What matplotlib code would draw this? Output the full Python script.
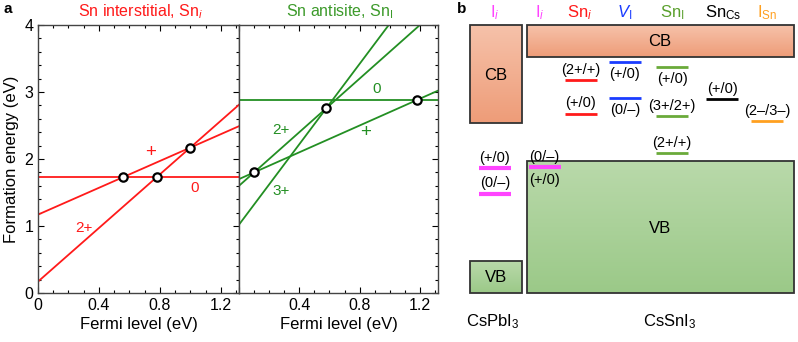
import numpy as np
import matplotlib
matplotlib.use("Agg")
import matplotlib.pyplot as plt
from matplotlib.patches import Rectangle
from matplotlib.ticker import MultipleLocator

plt.rcParams['font.family'] = ['Liberation Sans', 'DejaVu Sans']
plt.rcParams['mathtext.fontset'] = 'custom'
plt.rcParams['mathtext.rm'] = 'Liberation Sans'
plt.rcParams['mathtext.it'] = 'Liberation Sans:italic'
plt.rcParams['mathtext.bf'] = 'Liberation Sans:bold'

# ---------------- data: panel a ----------------
fermi_max = 1.32
# Sn interstitial: charge states and formation energy at E_F = 0
sni_labels = ['0', '+', '2+']
sni_charge = [0, 1, 2]
sni_e0 = [1.73, 1.17, 0.17]
sni_trans_x = [0.56, 0.78, 1.00]
sni_trans_y = [1.73, 1.73, 2.17]
sni_label_x = [1.03, 0.74, 0.30]
sni_label_y = [1.57, 2.10, 0.97]

# Sn antisite
snI_labels = ['0', '+', '2+', '3+']
snI_charge = [0, 1, 2, 3]
snI_e0 = [2.88, 1.70, 1.60, 1.02]
snI_trans_x = [0.10, 0.58, 1.18]
snI_trans_y = [1.80, 2.76, 2.88]
snI_label_x = [0.91, 0.84, 0.28, 0.28]
snI_label_y = [3.04, 2.39, 2.43, 1.52]

# ---------------- data: panel b (energies in eV, CsSnI3 VBM = 0) ----------------
headers = [r'I$_i$', r'I$_i$', r'Sn$_i$', r'$V_\mathrm{I}$', r'Sn$_\mathrm{I}$', r'Sn$_\mathrm{Cs}$', r'I$_\mathrm{Sn}$']
header_x = [495, 540, 580, 625, 672, 723, 767]
header_colors = ['#ff44ff', '#ff44ff', '#ff1a1a', '#1a3cff', '#5aa02c', '#000000', '#ffa020']

cspbi3_vb = [-1.65, -1.25]
cspbi3_cb = [0.475, 1.70]
cssni3_vb = [-1.65, 0.0]
cssni3_cb = [1.30, 1.70]

lvl_x = [495, 495, 545, 581, 581, 625, 625, 672, 672, 672, 722, 767]
lvl_e = [-0.09, -0.41, -0.075, 1.01, 0.59, 1.24, 0.79, 1.175, 0.56, 0.10, 0.775, 0.50]
lvl_text = ['(+/0)', '(0/–)', '(0/–)', '(2+/+)', '(+/0)', '(+/0)', '(0/–)', '(+/0)', '(3+/2+)', '(2+/+)', '(+/0)', '(2–/3–)']
lvl_pos = ['above', 'above', 'above', 'above', 'above', 'below', 'below', 'below', 'above', 'above', 'above', 'above']
lvl_color = ['#ff44ff', '#ff44ff', '#ff44ff', '#ff1a1a', '#ff1a1a', '#1a3cff', '#1a3cff',
             '#6aaa3a', '#6aaa3a', '#6aaa3a', '#000000', '#ffa020']

# ---------------- figure ----------------
W, H = 798, 342
fig = plt.figure(figsize=(W / 100, H / 100), dpi=100)

red = '#ff1a1a'
green = '#238f23'


def fx(px):
    return px / W


def fy(py):
    return 1 - py / H


ax1 = fig.add_axes([fx(38), fy(293), fx(239 - 38), (293 - 25) / H])
ax2 = fig.add_axes([fx(239), fy(293), fx(438 - 239), (293 - 25) / H])

xx = np.array([0.0, fermi_max])
for ax in (ax1, ax2):
    ax.set_xlim(0, fermi_max)
    ax.set_ylim(0, 4)
    ax.xaxis.set_major_locator(MultipleLocator(0.4))
    ax.xaxis.set_minor_locator(MultipleLocator(0.1))
    ax.yaxis.set_major_locator(MultipleLocator(1))
    ax.yaxis.set_minor_locator(MultipleLocator(0.2))
    ax.tick_params(which='both', direction='in', top=True, right=True, labelsize=11.5)
    ax.tick_params(which='major', length=4, width=0.8)
    ax.tick_params(which='minor', length=2.5, width=0.8)
    for s in ax.spines.values():
        s.set_color('#444444')
        s.set_linewidth(1.0)
    ax.set_xlabel('Fermi level (eV)', fontsize=12, labelpad=3)

ax1.xaxis.set_major_formatter(matplotlib.ticker.FuncFormatter(lambda v, p: '0' if abs(v) < 1e-9 else f'{v:.1f}'))
ax2.xaxis.set_major_formatter(matplotlib.ticker.FuncFormatter(lambda v, p: '' if abs(v) < 1e-9 else f'{v:.1f}'))
ax2.tick_params(which='both', left=False, labelleft=False)
ax1.set_ylabel('Formation energy (eV)', fontsize=12, labelpad=4)


def lab_size(s):
    return 13.5 if s == '+' else 11


for q, e0, lab, lx, ly in zip(sni_charge, sni_e0, sni_labels, sni_label_x, sni_label_y):
    ax1.plot(xx, e0 + q * xx, color=red, lw=1.3, clip_on=True)
    ax1.text(lx, ly, lab, color=red, fontsize=lab_size(lab), ha='center', va='center')
ax1.plot(sni_trans_x, sni_trans_y, 'o', ms=6, mfc='white', mec='black', mew=1.6, zorder=5)

for q, e0, lab, lx, ly in zip(snI_charge, snI_e0, snI_labels, snI_label_x, snI_label_y):
    ax2.plot(xx, e0 + q * xx, color=green, lw=1.3)
    ax2.text(lx, ly, lab, color=green, fontsize=lab_size(lab), ha='center', va='center')
ax2.plot(snI_trans_x, snI_trans_y, 'o', ms=6, mfc='white', mec='black', mew=1.6, zorder=5)

fig.text(fx(140), fy(12), r'Sn interstitial, Sn$_i$', color=red, fontsize=11.5, ha='center', va='center')
fig.text(fx(340), fy(12), r'Sn antisite, Sn$_\mathrm{I}$', color='#3c9a2a', fontsize=11.5, ha='center', va='center')
fig.text(fx(8), fy(9), 'a', fontsize=11, fontweight='bold', ha='center', va='center')
fig.text(fx(462), fy(9), 'b', fontsize=11, fontweight='bold', ha='center', va='center')

# ---------------- panel b ----------------
axb = fig.add_axes([fx(440), 0, fx(W - 440), 1])
e_top = 161 / 80
e_bot = (161 - H) / 80
axb.set_axis_off()

cb_cmap = matplotlib.colors.LinearSegmentedColormap.from_list('cb', ['#ee9c78', '#f6c2aa'])
vb_cmap = matplotlib.colors.LinearSegmentedColormap.from_list('vb', ['#9bc988', '#b9d9aa'])
grad = np.linspace(0, 1, 256).reshape(-1, 1)


def band_box(x0, x1, e0, e1, cmap):
    axb.imshow(grad, cmap=cmap, extent=[x0, x1, e0, e1], origin='lower', aspect='auto', zorder=1)
    axb.add_patch(Rectangle((x0, e0), x1 - x0, e1 - e0, fill=False, ec='#333333', lw=1.3, zorder=2))


band_box(470, 522, cspbi3_cb[0], cspbi3_cb[1], cb_cmap)
band_box(470, 522, cspbi3_vb[0], cspbi3_vb[1], vb_cmap)
band_box(527, 794, cssni3_cb[0], cssni3_cb[1], cb_cmap)
band_box(527, 794, cssni3_vb[0], cssni3_vb[1], vb_cmap)

axb.text(496, 1.075, 'CB', fontsize=12, ha='center', va='center', zorder=3)
axb.text(660, 1.49, 'CB', fontsize=12, ha='center', va='center', zorder=3)
axb.text(496, -1.45, 'VB', fontsize=12, ha='center', va='center', zorder=3)
axb.text(660, -0.84, 'VB', fontsize=12, ha='center', va='center', zorder=3)
axb.text(493, -2.01, r'CsPbI$_3$', fontsize=12, ha='center', va='center')
axb.text(670, -2.01, r'CsSnI$_3$', fontsize=12, ha='center', va='center')

for hx, h, c in zip(header_x, headers, header_colors):
    axb.text(hx, 1.86, h, color=c, fontsize=12, ha='center', va='center')

half = 16
for x, e, t, pos, c in zip(lvl_x, lvl_e, lvl_text, lvl_pos, lvl_color):
    lw = 3 if c == '#ff44ff' else 2
    axb.plot([x - half, x + half], [e, e], color=c, lw=lw, solid_capstyle='butt', zorder=4)
    off = 7.5 if pos == 'above' else -9
    ha = 'center'
    tx = x
    if x == 545:
        ha = 'left'
        tx = 529
    axb.annotate(t, (tx, e), xytext=(0, off), textcoords='offset points',
                 fontsize=10.5, ha=ha, va='center', zorder=5)
# extra label below the I_i level inside CsSnI3 VB
axb.annotate('(+/0)', (529, lvl_e[2]), xytext=(0, -9.5), textcoords='offset points',
             fontsize=10.5, ha='left', va='center', zorder=5)

axb.set_xlim(440, W)
axb.set_ylim(e_bot, e_top)

fig.savefig('out.png', dpi=100)
